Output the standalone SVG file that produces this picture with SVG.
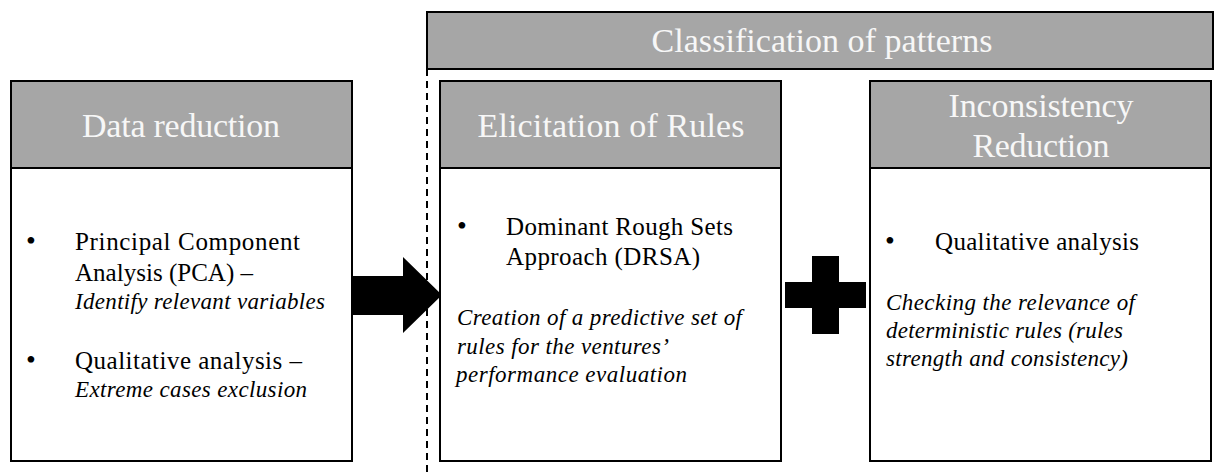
<svg xmlns="http://www.w3.org/2000/svg" width="1215" height="475" viewBox="0 0 1215 475">
<style>
.box{fill:#ffffff;stroke:#000000;stroke-width:2}
.hdr{fill:#a6a6a6;stroke:#000000;stroke-width:2}
text{font-family:'Liberation Serif','Times New Roman',Tinos,Times,serif}
.ht{font-size:34px;fill:#f7f7f7;text-anchor:middle}
.bt{font-size:25px;fill:#000000}
.it{font-size:23px;font-style:italic;fill:#000000}
.blt{font-size:28px;fill:#000000}
</style>
<rect width="1215" height="475" fill="#ffffff"/>
<g id="classification">
<rect class="hdr" x="427" y="12" width="786" height="57"/>
<text class="ht" x="822" y="52" textLength="341" lengthAdjust="spacing">Classification of patterns</text>
</g>
<g id="connectors">
<line x1="427" y1="69" x2="427" y2="475" stroke="#000" stroke-width="2" stroke-dasharray="7,5"/>
<polygon points="352,276 403,276 403,257 442,295 403,333 403,315 352,315" fill="#000"/>
<path d="M812,256 H839 V282 H866 V308 H839 V334 H812 V308 H785 V282 H812 Z" fill="#000"/>
</g>
<g id="data-reduction">
<rect class="box" x="11" y="81" width="341" height="380"/>
<rect class="hdr" x="11" y="81" width="341" height="87"/>
<text class="ht" x="181" y="137" textLength="198" lengthAdjust="spacing">Data reduction</text>
<text class="blt" x="26" y="250">•</text>
<text class="bt" x="75" y="250" textLength="225" lengthAdjust="spacing">Principal Component</text>
<text class="bt" x="75" y="281" textLength="178" lengthAdjust="spacing">Analysis (PCA) –</text>
<text class="it" x="75" y="309" textLength="250" lengthAdjust="spacing">Identify relevant variables</text>
<text class="blt" x="26" y="369">•</text>
<text class="bt" x="75" y="369" textLength="227" lengthAdjust="spacing">Qualitative analysis –</text>
<text class="it" x="75" y="397" textLength="232" lengthAdjust="spacing">Extreme cases exclusion</text>
</g>
<g id="elicitation">
<rect class="box" x="440" y="81" width="341" height="380"/>
<rect class="hdr" x="440" y="81" width="341" height="87"/>
<text class="ht" x="611" y="137" textLength="267" lengthAdjust="spacing">Elicitation of Rules</text>
<text class="blt" x="457" y="235">•</text>
<text class="bt" x="506" y="235" textLength="227" lengthAdjust="spacing">Dominant Rough Sets</text>
<text class="bt" x="506" y="265" textLength="194" lengthAdjust="spacing">Approach (DRSA)</text>
<text class="it" x="457" y="325" textLength="285" lengthAdjust="spacing">Creation of a predictive set of</text>
<text class="it" x="457" y="354" textLength="212" lengthAdjust="spacing">rules for the ventures’</text>
<text class="it" x="456" y="382" textLength="231" lengthAdjust="spacing">performance evaluation</text>
</g>
<g id="inconsistency">
<rect class="box" x="870" y="81" width="341" height="380"/>
<rect class="hdr" x="870" y="81" width="341" height="87"/>
<text class="ht" x="1041" y="117" textLength="185" lengthAdjust="spacing">Inconsistency</text>
<text class="ht" x="1041" y="157" textLength="137" lengthAdjust="spacing">Reduction</text>
<text class="blt" x="885" y="250">•</text>
<text class="bt" x="935" y="250" textLength="204" lengthAdjust="spacing">Qualitative analysis</text>
<text class="it" x="886" y="310" textLength="249" lengthAdjust="spacing">Checking the relevance of</text>
<text class="it" x="886" y="338" textLength="237" lengthAdjust="spacing">deterministic rules (rules</text>
<text class="it" x="886" y="366" textLength="242" lengthAdjust="spacing">strength and consistency)</text>
</g>
</svg>
